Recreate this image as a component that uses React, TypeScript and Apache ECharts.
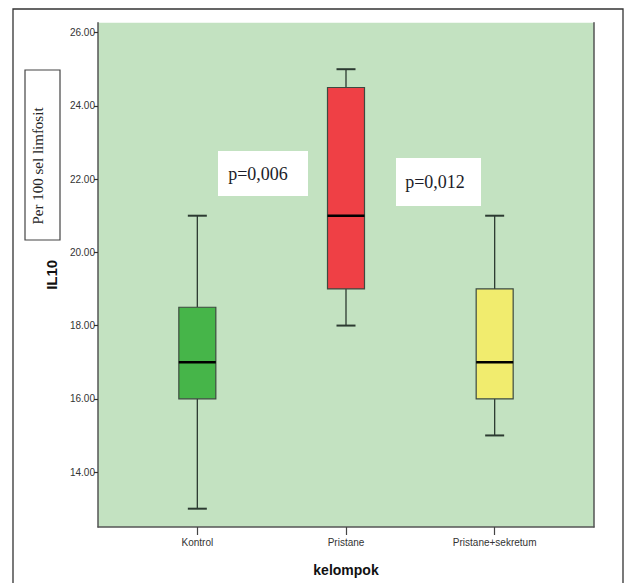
import React, { useEffect, useRef } from "react";
import * as echarts from "echarts";

const categories = ["Kontrol", "Pristane", "Pristane+sekretum"];
const lowWhisker = [13, 18, 15];
const q1 = [16, 19, 16];
const median = [17, 21, 17];
const q3 = [18.5, 24.5, 19];
const highWhisker = [21, 25, 21];
const boxColors = ["#46b549", "#ef4045", "#f1ec6e"];
const yTicks = [14, 16, 18, 20, 22, 24, 26];
const yMin = 12.5;
const yMax = 26.27;
const pLabels = ["p=0,006", "p=0,012"];

export default function App() {
  const ref = useRef<HTMLDivElement>(null);
  useEffect(() => {
    if (!ref.current) return;
    const chart = echarts.init(ref.current, null, { renderer: "svg" });
    const data = categories.map((c, i) => [i, lowWhisker[i], q1[i], median[i], q3[i], highWhisker[i]]);
    const axisColor = "#555";
    const sans = "'Liberation Sans', Arial, sans-serif";
    const option: any = {
      animation: false,
      backgroundColor: "#ffffff",
      grid: [
        { left: 123, width: 446, top: 22.7, height: 504.3, show: false },
        {
          left: 98,
          width: 496,
          top: 22.7,
          height: 504.3,
          show: true,
          backgroundColor: "#c3e2c1",
          borderWidth: 0,
          z: -1,
        },
      ],
      xAxis: [
        {
          type: "category",
          gridIndex: 0,
          data: categories,
          axisLine: { show: false },
          axisTick: { show: true, alignWithLabel: true, length: 8, lineStyle: { color: "#444", width: 1.2 } },
          axisLabel: { margin: 10, fontSize: 10, color: "#333", fontFamily: sans },
          name: "kelompok",
          nameLocation: "middle",
          nameGap: 36,
          nameTextStyle: { fontSize: 14, fontWeight: "bold", color: "#111", fontFamily: sans },
          splitLine: { show: false },
        },
        {
          type: "value",
          gridIndex: 1,
          min: 0,
          max: 1,
          axisLine: { show: true, onZero: false, lineStyle: { color: axisColor, width: 1.5 } },
          axisTick: { show: false },
          axisLabel: { show: false },
          splitLine: { show: false },
        },
      ],
      yAxis: [
        { type: "value", gridIndex: 0, min: yMin, max: yMax, show: false },
        {
          type: "value",
          gridIndex: 1,
          min: yMin,
          max: yMax,
          axisLine: { show: true, lineStyle: { color: axisColor, width: 1.5 } },
          axisTick: { show: true, length: 4, customValues: yTicks, lineStyle: { color: "#333", width: 1.2 } },
          axisLabel: {
            customValues: yTicks,
            formatter: (v: number) => v.toFixed(2),
            fontSize: 10,
            color: "#333",
            margin: 3,
            fontFamily: sans,
          },
          splitLine: { show: false },
          name: "IL10",
          nameLocation: "middle",
          nameRotate: 90,
          nameGap: 39,
          nameTextStyle: { fontSize: 15, fontWeight: "bold", color: "#111", fontFamily: sans },
        },
        {
          type: "value",
          gridIndex: 1,
          min: yMin,
          max: yMax,
          position: "right",
          axisLine: { show: true, lineStyle: { color: axisColor, width: 1.5 } },
          axisTick: { show: false },
          axisLabel: { show: false },
          splitLine: { show: false },
        },
      ],
      series: [
        {
          type: "custom",
          xAxisIndex: 0,
          yAxisIndex: 0,
          data,
          encode: { x: 0, y: [1, 2, 3, 4, 5] },
          renderItem: (params: any, api: any) => {
            const x = api.value(0);
            const pLow = api.coord([x, api.value(1)]);
            const pQ1 = api.coord([x, api.value(2)]);
            const pMed = api.coord([x, api.value(3)]);
            const pQ3 = api.coord([x, api.value(4)]);
            const pHigh = api.coord([x, api.value(5)]);
            const cx = pLow[0];
            const bw = 37;
            const cap = 19;
            const wc = "#2c3a31";
            return {
              type: "group",
              children: [
                { type: "line", shape: { x1: cx, y1: pQ1[1], x2: cx, y2: pLow[1] }, style: { stroke: wc, lineWidth: 1.3 } },
                { type: "line", shape: { x1: cx, y1: pQ3[1], x2: cx, y2: pHigh[1] }, style: { stroke: wc, lineWidth: 1.3 } },
                { type: "line", shape: { x1: cx - cap / 2, y1: pLow[1], x2: cx + cap / 2, y2: pLow[1] }, style: { stroke: wc, lineWidth: 2 } },
                { type: "line", shape: { x1: cx - cap / 2, y1: pHigh[1], x2: cx + cap / 2, y2: pHigh[1] }, style: { stroke: wc, lineWidth: 2 } },
                {
                  type: "rect",
                  shape: { x: cx - bw / 2, y: pQ3[1], width: bw, height: pQ1[1] - pQ3[1] },
                  style: { fill: boxColors[params.dataIndex], stroke: "#3d4a40", lineWidth: 1.2 },
                },
                { type: "line", shape: { x1: cx - bw / 2, y1: pMed[1], x2: cx + bw / 2, y2: pMed[1] }, style: { stroke: "#000", lineWidth: 2.5 } },
              ],
            };
          },
        },
      ],
      graphic: [
        { type: "rect", z: -10, shape: { x: 13, y: 9, width: 610, height: 600 }, style: { fill: "none", stroke: "#333", lineWidth: 1.3 } },
        { type: "rect", z: 10, shape: { x: 25, y: 70, width: 35, height: 170 }, style: { fill: "#fff", stroke: "#444", lineWidth: 1.2 } },
        {
          type: "text",
          z: 11,
          x: 38,
          y: 166,
          rotation: Math.PI / 2,
          style: {
            text: "Per 100 sel limfosit",
            fontSize: 15,
            fontFamily: "'Liberation Serif', 'Times New Roman', serif",
            fill: "#222",
            align: "center",
            verticalAlign: "middle",
          },
        },
        { type: "rect", z: 10, shape: { x: 218, y: 151, width: 90, height: 45 }, style: { fill: "#fff" } },
        {
          type: "text",
          z: 11,
          x: 258,
          y: 174,
          style: { text: pLabels[0], fontSize: 18, fontFamily: "'Liberation Serif', 'Times New Roman', serif", fill: "#1c1c28", align: "center", verticalAlign: "middle" },
        },
        { type: "rect", z: 10, shape: { x: 396, y: 158, width: 85, height: 48 }, style: { fill: "#fff" } },
        {
          type: "text",
          z: 11,
          x: 435,
          y: 182,
          style: { text: pLabels[1], fontSize: 18, fontFamily: "'Liberation Serif', 'Times New Roman', serif", fill: "#1c1c28", align: "center", verticalAlign: "middle" },
        },
      ],
    };
    chart.setOption(option);
    return () => chart.dispose();
  }, []);
  return <div ref={ref} style={{ position: "absolute", left: 0, top: 0, width: 627, height: 583 }} />;
}
